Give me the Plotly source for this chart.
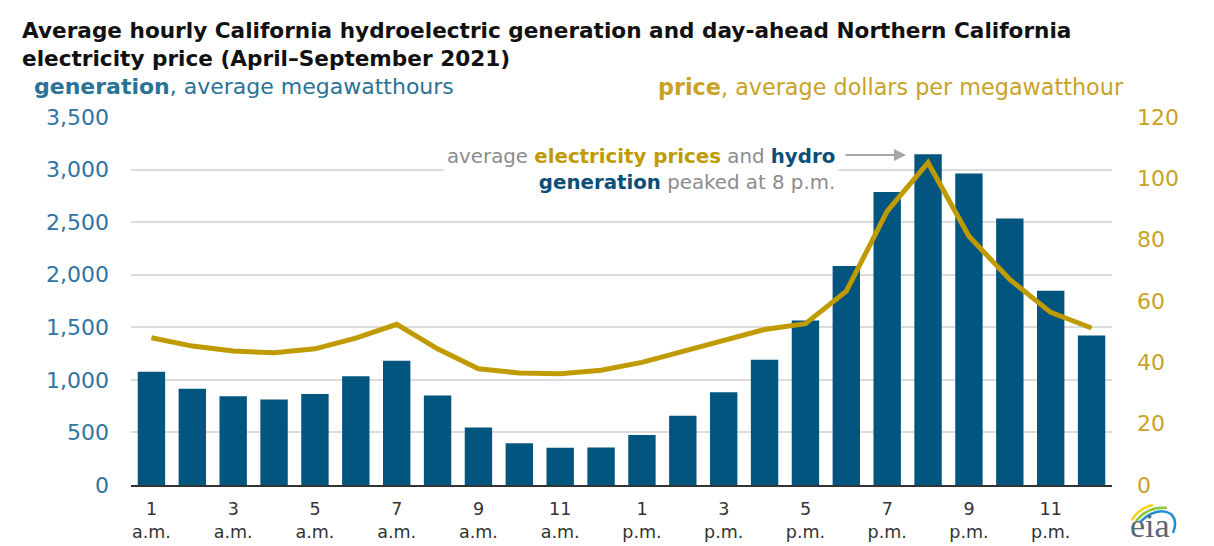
import plotly.graph_objects as go

hours = list(range(1, 25))
generation = [1078, 916, 843, 814, 865, 1034, 1181, 852, 546, 398, 354, 357,
              475, 659, 881, 1191, 1565, 2084, 2787, 3145, 2962, 2534, 1847, 1422]
price = [48.0, 45.3, 43.7, 43.1, 44.4, 47.9, 52.4, 44.4, 37.9, 36.5, 36.3, 37.4,
         40.0, 43.6, 46.8, 50.7, 52.6, 63.2, 89.3, 105.1, 81.1, 67.0, 56.3, 51.2]
tick_hours = [1, 3, 5, 7, 9, 11, 13, 15, 17, 19, 21, 23]
tick_labels = ["1<br>a.m.", "3<br>a.m.", "5<br>a.m.", "7<br>a.m.", "9<br>a.m.", "11<br>a.m.",
               "1<br>p.m.", "3<br>p.m.", "5<br>p.m.", "7<br>p.m.", "9<br>p.m.", "11<br>p.m."]

BLUE = "#02557f"
BLUE_TXT = "#2f74a3"
GOLD = "#c09b00"
GOLD_TXT = "#c9a227"
FONT = "DejaVu Sans, Verdana, sans-serif"

# The page body adds an 8px margin; the figure is sized so that it fills the window.
OFF = 8
W, H = 1214 - OFF, 546 - OFF
L_REF, R_REF, T_REF, B_REF = 131, 1112, 117, 485   # plot area in window pixels
L, R, T, B = L_REF - OFF, 1214 - R_REF, T_REF - OFF, 546 - B_REF
pw, ph = R_REF - L_REF, B_REF - T_REF


def px(x):
    return (x - L_REF) / pw


def py(y):
    return (B_REF - y) / ph


fig = go.Figure()
fig.add_trace(go.Bar(x=hours, y=generation, marker_color=BLUE, marker_line_width=0,
                     name="generation", yaxis="y"))
fig.add_trace(go.Scatter(x=hours, y=price, mode="lines", line=dict(color=GOLD, width=5),
                         name="price", yaxis="y2"))

fig.update_layout(
    width=W, height=H,
    margin=dict(l=L, r=R, t=T, b=B, pad=0, autoexpand=False),
    paper_bgcolor="white", plot_bgcolor="white",
    showlegend=False, bargap=0.33,
    font=dict(family=FONT),
    xaxis=dict(range=[0.5, 24.5], tickvals=tick_hours, ticktext=tick_labels,
               tickfont=dict(size=17.5, color="#333333"), showgrid=False,
               showline=True, linecolor="#333333", linewidth=2, ticks="",
               zeroline=False, ticklabelstandoff=7, automargin=False),
    yaxis=dict(range=[0, 3500], dtick=500, tickformat=",", showgrid=True,
               gridcolor="#dcdcdc", gridwidth=1.5, zeroline=False, automargin=False,
               tickfont=dict(size=22, color=BLUE_TXT), ticklabelstandoff=21),
    yaxis2=dict(range=[0, 120], dtick=20, overlaying="y", side="right",
                showgrid=False, zeroline=False, automargin=False,
                tickfont=dict(size=22, color=GOLD_TXT), ticklabelstandoff=24),
)

annotations = [
    dict(text="<b>Average hourly California hydroelectric generation and day-ahead Northern California"
              "<br>electricity price (April\u2013September 2021)</b>",
         x=px(20), y=py(16), xanchor="left", yanchor="top", align="left",
         font=dict(size=21.6, color="#111111"), showarrow=False),
    dict(text="<b>generation</b>, average megawatthours",
         x=px(32), y=py(87), xanchor="left", yanchor="middle",
         font=dict(size=22, color="#2a7297"), showarrow=False),
    dict(text="<b>price</b>, average dollars per megawatthour",
         x=px(1126), y=py(87), xanchor="right", yanchor="middle",
         font=dict(size=22.3, color=GOLD_TXT), showarrow=False),
    dict(text="average <b><span style='color:#c09b00'>electricity prices</span></b> and "
              "<b><span style='color:#0b4f78'>hydro</span></b>"
              "<br><b><span style='color:#0b4f78'>generation</span></b> peaked at 8 p.m.",
         x=px(839), y=py(169), xanchor="right", yanchor="middle", align="right",
         font=dict(size=19.8, color="#8c8c8c"), bgcolor="white", borderpad=3,
         showarrow=False),
    dict(text="", x=px(906), y=py(155), ax=-62, ay=0, showarrow=True,
         arrowhead=2, arrowsize=1.2, arrowwidth=2, arrowcolor="#a6a6a6"),
    dict(text="eia", x=px(1150), y=py(545), xanchor="center", yanchor="bottom",
         font=dict(size=34, color="#5b6770", family="Liberation Serif, Times New Roman, serif"),
         borderpad=0, showarrow=False),
]
for a in annotations:
    a.setdefault("xref", "paper")
    a.setdefault("yref", "paper")
fig.update_layout(annotations=annotations)

shapes = [
    # eia swoosh
    dict(type="path", xref="paper", yref="paper",
         path=f"M {px(1132)},{py(520)} Q {px(1139)},{py(508)} {px(1153)},{py(505)}",
         line=dict(color="#f2d21b", width=2.5)),
    dict(type="path", xref="paper", yref="paper",
         path=f"M {px(1136)},{py(521)} Q {px(1148)},{py(506)} {px(1167)},{py(508)}",
         line=dict(color="#8cc63f", width=2.5)),
    dict(type="path", xref="paper", yref="paper",
         path=f"M {px(1140)},{py(522)} Q {px(1157)},{py(506)} {px(1171)},{py(514)} "
              f"Q {px(1178)},{py(521)} {px(1173)},{py(533)}",
         line=dict(color="#1f8fd0", width=2.5)),
]
fig.update_layout(shapes=shapes)

fig.write_html("out.html")
